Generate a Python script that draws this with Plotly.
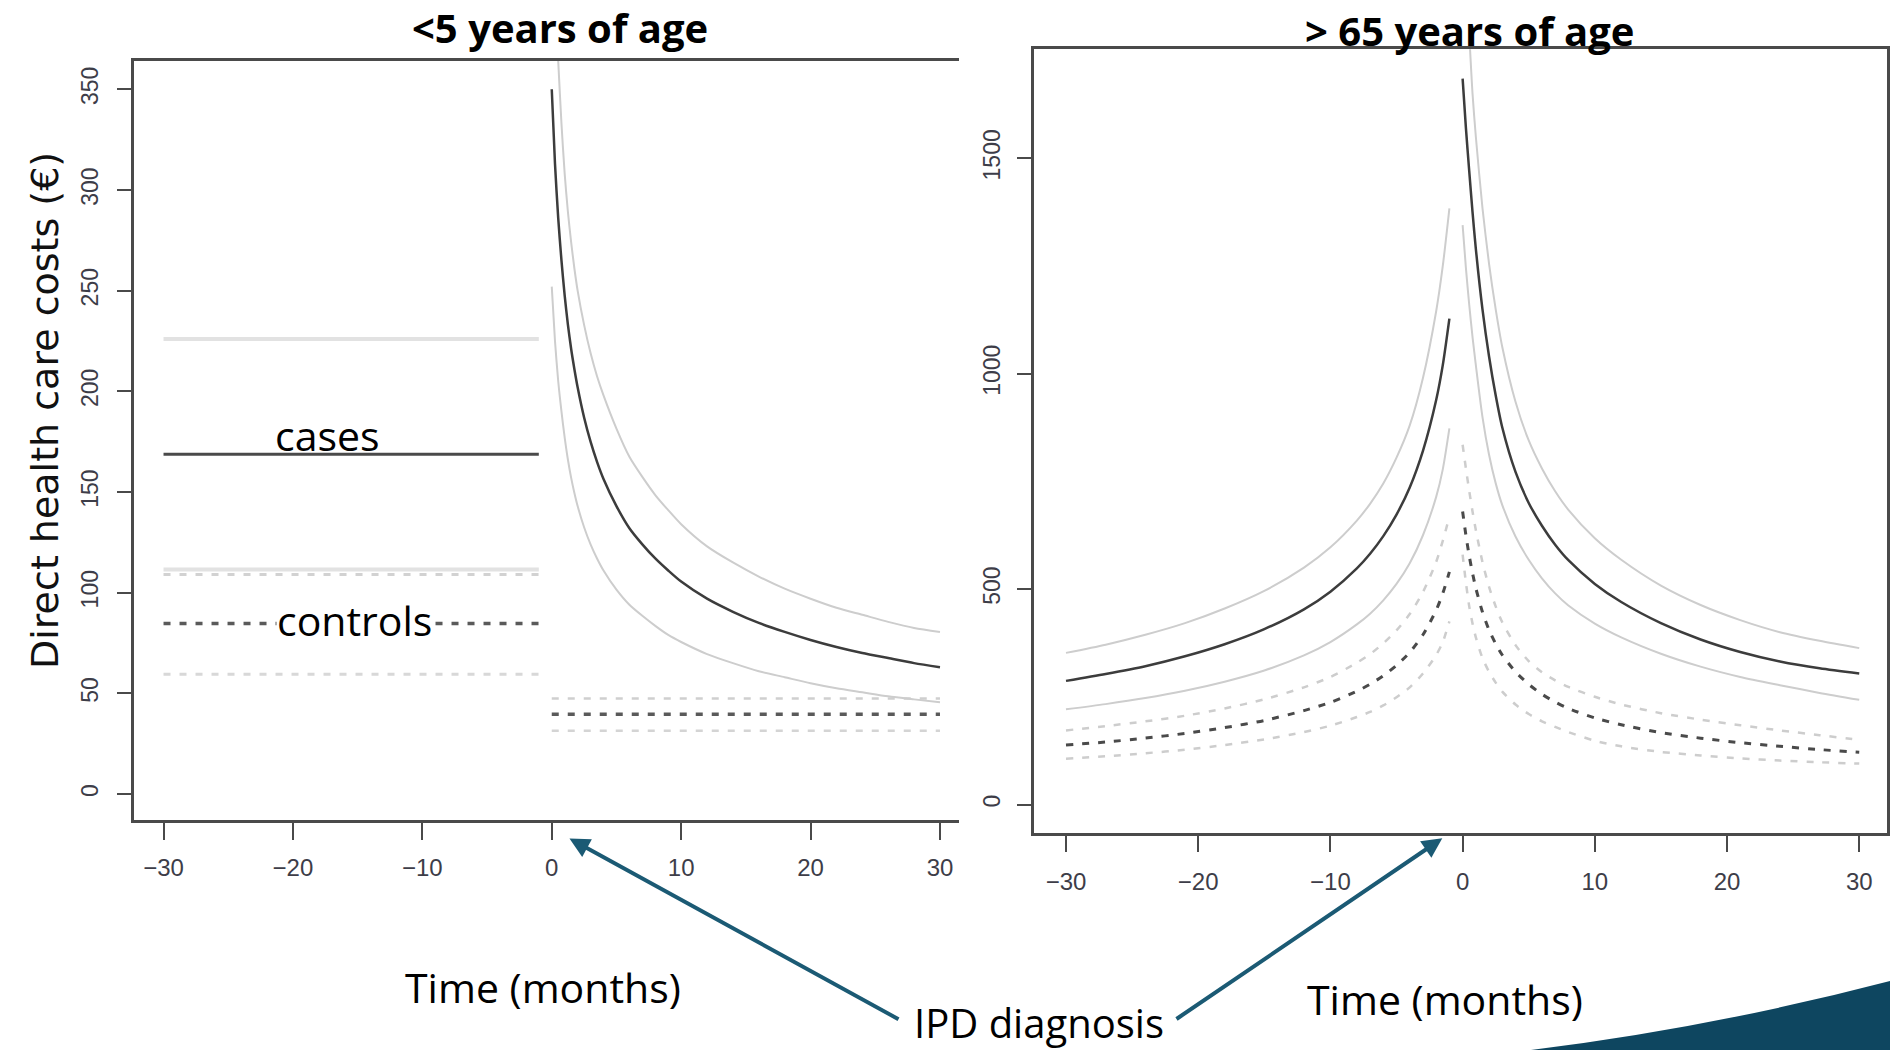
import plotly.graph_objects as go

W, H = 1890, 1050

# ---------------- data: left panel (<5 years) ----------------
left_pre_x = [-30, -1]
left_cases_pre = [168.7, 168.7]
left_cases_pre_upper = [226, 226]
left_cases_pre_lower = [111.5, 111.5]
left_controls_pre = [84.7, 84.7]
left_controls_pre_upper = [109, 109]
left_controls_pre_lower = [59.5, 59.5]

left_ctrl_post_x = [0, 30]
left_controls_post = [39.6, 39.6]
left_controls_post_upper = [47.4, 47.4]
left_controls_post_lower = [31.4, 31.4]

left_post_x = [0, 0.25, 0.5, 0.75, 1, 1.25, 1.5, 1.75, 2, 2.5, 3, 3.5, 4, 5, 6, 7, 8, 9, 10,
               12, 14, 16, 18, 20, 22, 24, 26, 28, 30]
left_cases_post = [350, 313, 286, 265, 247.5, 233, 221, 211, 202, 187, 175, 165, 156.5, 143, 132, 124, 117, 111, 105.5,
                   97, 90.5, 85, 80.5, 76.5, 73, 70, 67.5, 65, 63]
left_cases_post_lower = [252, 225, 205, 190, 177, 166, 157, 149.5, 143, 132.5, 124, 117, 111, 101.5, 94, 88.5, 83.5, 79, 75.5,
                         69.5, 65, 61, 58, 55, 52.5, 50.5, 48.5, 47, 45.6]
left_upper_post_x = [0.4, 0.5, 0.75, 1, 1.25, 1.5, 1.75, 2, 2.5, 3, 3.5, 4, 5, 6, 7, 8, 9, 10,
                     12, 14, 16, 18, 20, 22, 24, 26, 28, 30]
left_cases_post_upper = [378, 364, 333, 308, 289, 274, 261, 250, 233, 219, 207.5, 198, 181.5, 167.5, 157.5, 148.5, 141, 134,
                         123, 115, 108, 102, 97, 92.5, 89, 85.5, 82.5, 80.5]

# ---------------- data: right panel (>65 years) ----------------
right_pre_x = [-30, -27, -24, -21, -18, -15, -12, -10, -8, -7, -6, -5, -4, -3, -2, -1.5, -1]
right_cases_pre = [287, 303, 321, 344, 372, 407, 453, 494, 548, 582, 623, 673, 736, 821, 939, 1020, 1128]
right_cases_pre_upper = [352, 371, 394, 421, 455, 496, 550, 597, 659, 698, 745, 805, 880, 990, 1145, 1250, 1384]
right_cases_pre_lower = [221, 233, 247, 264, 285, 311, 346, 377, 418, 443, 474, 512, 560, 625, 714, 778, 873]
right_controls_pre = [138, 145, 154, 165, 178.5, 195, 218, 237, 263, 279, 299, 323, 353, 394, 451, 490, 540]
right_controls_pre_upper = [172, 182, 193, 206, 223, 244, 272, 296, 329, 349, 374, 404, 442, 493, 563, 612, 668]
right_controls_pre_lower = [106, 112, 119, 127, 138, 151, 168, 183, 203, 215, 230, 249, 272, 304, 347, 377, 425]

right_post_x = [0, 0.25, 0.5, 0.75, 1, 1.5, 2, 2.5, 3, 4, 5, 6, 7, 8, 10, 12, 15, 18, 21, 24, 27, 30]
right_cases_post = [1685, 1570, 1470, 1375, 1290, 1150, 1040, 950, 875, 772, 700, 647, 603, 567, 512, 470, 421, 383, 354, 332, 316, 304]
right_cases_post_lower = [1345, 1245, 1160, 1085, 1020, 900, 812, 746, 695, 622, 568, 525, 490, 462, 420, 388, 350, 320, 296, 277, 259, 243]
right_upper_post_x = [0.5, 0.75, 1, 1.5, 2, 2.5, 3, 4, 5, 6, 7, 8, 10, 12, 15, 18, 21, 24, 27, 30]
right_cases_post_upper = [1790, 1650, 1550, 1385, 1255, 1150, 1062, 935, 845, 780, 727, 684, 618, 568, 508, 463, 428, 400, 380, 363]
right_controls_post = [680, 625, 577, 537, 502, 447, 405, 373, 347, 308, 279, 256, 238, 223, 201, 185, 167, 154, 143.5, 135, 127.5, 121]
right_controls_post_upper = [835, 780, 728, 680, 637, 563, 505, 460, 423, 370, 333, 307, 288, 273, 250, 232, 212, 197, 184, 172, 161, 150]
right_controls_post_lower = [580, 515, 460, 420, 388, 340, 308, 283, 262, 232, 210, 193, 180, 168, 148, 135, 122, 114, 107, 102, 98, 95]

x_ticks = [-30, -20, -10, 0, 10, 20, 30]
left_y_ticks = [0, 50, 100, 150, 200, 250, 300, 350]
right_y_ticks = [0, 500, 1000, 1500]

# ---------------- styles ----------------
DARK = "#3c3c3c"
LIGHT = "#cdcdcd"
DASH = "7px,9px"
ARROW = "#1b5a74"


def fx(px):
    return px / W


def fy(py):
    return (H - py) / H


fig = go.Figure()


def add(xs, ys, ax, color, width, dash="solid", shape="spline"):
    fig.add_trace(go.Scatter(
        x=xs, y=ys, mode="lines", xaxis="x" + ax, yaxis="y" + ax,
        line=dict(color=color, width=width, dash=dash, shape=shape, smoothing=0.7),
        hoverinfo="skip", showlegend=False))


# left panel (axes x / y)
add(left_pre_x, left_cases_pre_upper, "", "#e2e2e2", 4, shape="linear")
add(left_pre_x, left_cases_pre_lower, "", "#e2e2e2", 4, shape="linear")
add(left_pre_x, left_controls_pre_upper, "", "#d2d2d2", 3, DASH, "linear")
add(left_pre_x, left_controls_pre_lower, "", "#d8d8d8", 3, DASH, "linear")
add(left_pre_x, left_controls_pre, "", "#5a5a5a", 3.5, DASH, "linear")
add(left_pre_x, left_cases_pre, "", "#4a4a4a", 3, shape="linear")
add(left_ctrl_post_x, left_controls_post_upper, "", "#cfcfcf", 2.5, DASH, "linear")
add(left_ctrl_post_x, left_controls_post_lower, "", "#d4d4d4", 2.5, DASH, "linear")
add(left_ctrl_post_x, left_controls_post, "", "#5a5a5a", 3.5, DASH, "linear")
add(left_upper_post_x, left_cases_post_upper, "", LIGHT, 2)
add(left_post_x, left_cases_post_lower, "", LIGHT, 2)
add(left_post_x, left_cases_post, "", DARK, 2.5)

# right panel (axes x2 / y2)
add(right_pre_x, right_controls_pre_upper, "2", LIGHT, 2.5, DASH)
add(right_pre_x, right_controls_pre_lower, "2", LIGHT, 2.5, DASH)
add(right_post_x, right_controls_post_upper, "2", LIGHT, 2.5, DASH)
add(right_post_x, right_controls_post_lower, "2", LIGHT, 2.5, DASH)
add(right_pre_x, right_controls_pre, "2", "#4a4a4a", 3, DASH)
add(right_post_x, right_controls_post, "2", "#4a4a4a", 3, DASH)
add(right_pre_x, right_cases_pre_upper, "2", LIGHT, 2)
add(right_pre_x, right_cases_pre_lower, "2", LIGHT, 2)
add(right_upper_post_x, right_cases_post_upper, "2", LIGHT, 2)
add(right_post_x, right_cases_post_lower, "2", LIGHT, 2)
add(right_pre_x, right_cases_pre, "2", DARK, 2.5)
add(right_post_x, right_cases_post, "2", DARK, 2.5)

AXC = "#4a4a4a"
tickfont = dict(family="Liberation Sans, Arial, sans-serif", size=24, color="#3d3d48")
ytickfont = dict(family="Liberation Sans, Arial, sans-serif", size=23, color="#3d3d48")

common_x = dict(tickvals=x_ticks, ticks="outside", ticklen=17, tickwidth=2, tickcolor=AXC,
                showline=True, linecolor=AXC, linewidth=2.5, mirror=True,
                showgrid=False, zeroline=False, tickfont=tickfont, fixedrange=True)
common_y = dict(ticks="outside", ticklen=14, tickwidth=2, tickcolor=AXC,
                showline=True, linecolor=AXC, linewidth=2.5,
                showgrid=False, zeroline=False, tickfont=ytickfont, tickangle=-90,
                fixedrange=True)

fig.update_layout(
    width=W, height=H, margin=dict(l=0, r=0, t=0, b=0),
    paper_bgcolor="white", plot_bgcolor="white",
    xaxis=dict(domain=[fx(133.5), fx(959)], range=[-32.32, 31.47], anchor="y",
               ticklabelstandoff=7, **common_x),
    yaxis=dict(domain=[fy(820), fy(61)], range=[-12.91, 364.06], anchor="x",
               tickvals=left_y_ticks, mirror=False, ticklabelstandoff=10, **common_y),
    xaxis2=dict(domain=[fx(1034), fx(1887)], range=[-32.42, 32.1], anchor="y2",
                ticklabelstandoff=9, **common_x),
    yaxis2=dict(domain=[fy(832.5), fy(49.3)], range=[-65.0, 1753], anchor="x2",
                tickvals=right_y_ticks, mirror=True, ticklabelstandoff=8, **common_y),
)

CAL = "Open Sans, Noto Sans, sans-serif"


def label(text, px, py, size=41, bold=False, family=CAL, angle=0, bg=None, color="black"):
    fig.add_annotation(
        text=("<b>%s</b>" % text) if bold else text,
        xref="paper", yref="paper", x=fx(px), y=fy(py),
        xanchor="center", yanchor="middle", showarrow=False, textangle=angle,
        font=dict(family=family, size=size, color=color),
        bgcolor=bg, borderpad=0)


label("&lt;5 years of age", 560, 28, size=40, bold=True)
label("&gt; 65 years of age", 1469, 30, size=40, bold=True)
label("cases", 327, 435)
label("controls", 354.5, 620, bg="white")
label("Time (months)", 543, 987)
label("Time (months)", 1444.5, 999)
label("IPD diagnosis", 1039, 1022, size=40)
label("Direct health care costs (€)", 45, 411, size=38,
      family="DejaVu Sans, Verdana, sans-serif", angle=-90, color="#111111")

# arrows pointing to the diagnosis time
for tip, tail in [((569.5, 838.5), (900, 1020)), ((1442.3, 838.3), (1175, 1020))]:
    fig.add_annotation(
        xref="paper", yref="paper", x=fx(tip[0]), y=fy(tip[1]),
        ax=tail[0] - tip[0], ay=tail[1] - tip[1], axref="pixel", ayref="pixel",
        text="", showarrow=True, arrowhead=2, arrowsize=1.0, arrowwidth=4,
        arrowcolor=ARROW, standoff=0)

# decorative corner shape bottom-right
p = lambda x, y: "%f,%f" % (fx(x), fy(y))
fig.add_shape(type="path", xref="paper", yref="paper",
              path="M %s Q %s %s L %s Z" % (p(1531, 1050), p(1710, 1028), p(1890, 981), p(1890, 1050)),
              fillcolor="#0e4660", line=dict(width=0), layer="above")

fig.write_html("out.html")
